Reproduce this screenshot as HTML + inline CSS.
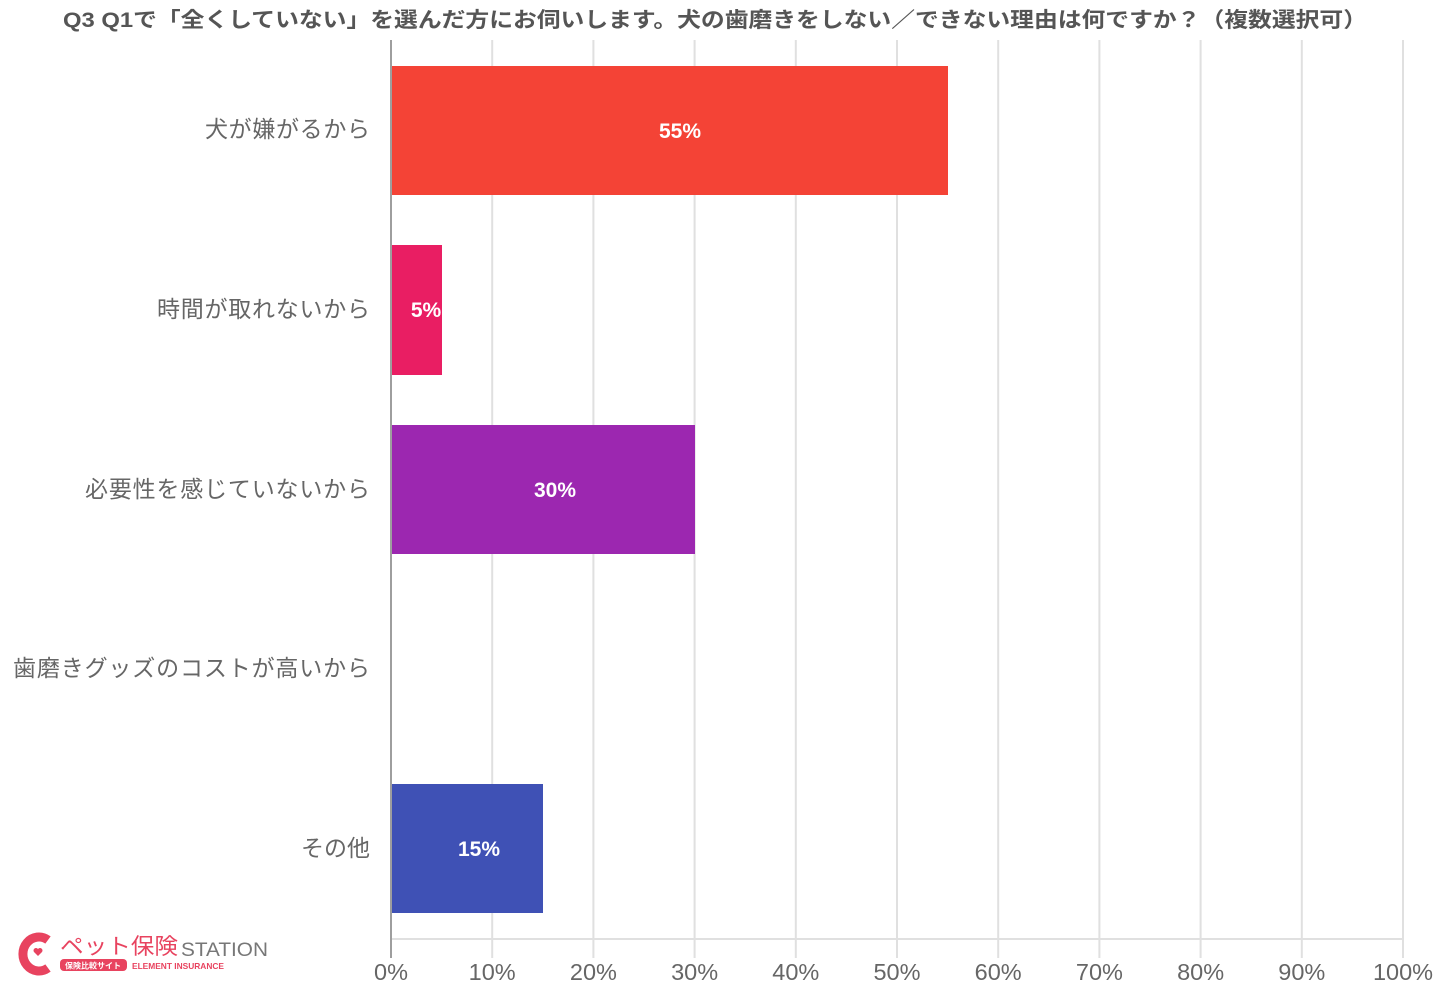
<!DOCTYPE html>
<html><head><meta charset="utf-8"><style>
html,body{margin:0;padding:0;background:#fff;}
svg{display:block;font-family:"Liberation Sans","Noto Sans CJK JP",sans-serif;}
</style></head><body>
<svg width="1442" height="1000" viewBox="0 0 1442 1000" xmlns="http://www.w3.org/2000/svg">
<text x="63" y="27" font-size="21" font-weight="bold" fill="#555" textLength="1304" lengthAdjust="spacingAndGlyphs">Q3 Q1で「全くしていない」を選んだ方にお伺いします。犬の歯磨きをしない／できない理由は何ですか？（複数選択可）</text>
<g stroke="#e0e0e0" stroke-width="2">
<line x1="492.2" y1="40" x2="492.2" y2="958"/>
<line x1="593.4" y1="40" x2="593.4" y2="958"/>
<line x1="694.6" y1="40" x2="694.6" y2="958"/>
<line x1="795.8" y1="40" x2="795.8" y2="958"/>
<line x1="897" y1="40" x2="897" y2="958"/>
<line x1="998.2" y1="40" x2="998.2" y2="958"/>
<line x1="1099.4" y1="40" x2="1099.4" y2="958"/>
<line x1="1200.6" y1="40" x2="1200.6" y2="958"/>
<line x1="1301.8" y1="40" x2="1301.8" y2="958"/>
<line x1="1403" y1="40" x2="1403" y2="958"/>
<line x1="391" y1="939" x2="1403" y2="939"/>
</g>
<rect x="391" y="66" width="557" height="129" fill="#f44336"/>
<rect x="391" y="245" width="51" height="130" fill="#e91e63"/>
<rect x="391" y="425" width="304" height="129" fill="#9c27b0"/>
<rect x="391" y="784" width="152" height="129" fill="#3f51b5"/>
<line x1="391" y1="40" x2="391" y2="958" stroke="#9e9e9e" stroke-width="2"/>
<g font-size="21" font-weight="bold" fill="#fff" text-anchor="middle">
<text x="680" y="138">55%</text>
<text x="426" y="317">5%</text>
<text x="555" y="497">30%</text>
<text x="479" y="856">15%</text>
</g>
<g font-size="23" fill="#666" lengthAdjust="spacingAndGlyphs">
<text x="205" y="137" textLength="165">犬が嫌がるから</text>
<text x="157" y="317" textLength="213">時間が取れないから</text>
<text x="85" y="497" textLength="285">必要性を感じていないから</text>
<text x="13" y="676" textLength="357">歯磨きグッズのコストが高いから</text>
<text x="301" y="856" textLength="69">その他</text>
</g>
<g font-size="23.5" fill="#666" text-anchor="middle">
<text x="391" y="980">0%</text>
<text x="492.2" y="980">10%</text>
<text x="593.4" y="980">20%</text>
<text x="694.6" y="980">30%</text>
<text x="795.8" y="980">40%</text>
<text x="897" y="980">50%</text>
<text x="998.2" y="980">60%</text>
<text x="1099.4" y="980">70%</text>
<text x="1200.6" y="980">80%</text>
<text x="1301.8" y="980">90%</text>
<text x="1403" y="980">100%</text>
</g>
<g>
<path d="M48 940 A16 17 0 1 0 48 968" fill="none" stroke="#e8435f" stroke-width="9"/>
<path d="M38 956 l-4 -4 a2.5 2.5 0 0 1 4 -3 a2.5 2.5 0 0 1 4 3 z" fill="#e8435f"/>
<text x="60" y="954" font-size="22" fill="#e8435f" textLength="118" lengthAdjust="spacingAndGlyphs">ペット保険</text>
<text x="181" y="956" font-size="19" fill="#777" textLength="87" lengthAdjust="spacingAndGlyphs">STATION</text>
<rect x="60" y="959" width="67" height="12" rx="4" fill="#e8435f"/>
<text x="93" y="968.5" font-size="8" font-weight="bold" fill="#fff" text-anchor="middle">保険比較サイト</text>
<text x="132" y="969" font-size="8.5" font-weight="bold" fill="#e8435f" textLength="92" lengthAdjust="spacingAndGlyphs">ELEMENT INSURANCE</text>
</g>
</svg>
</body></html>
